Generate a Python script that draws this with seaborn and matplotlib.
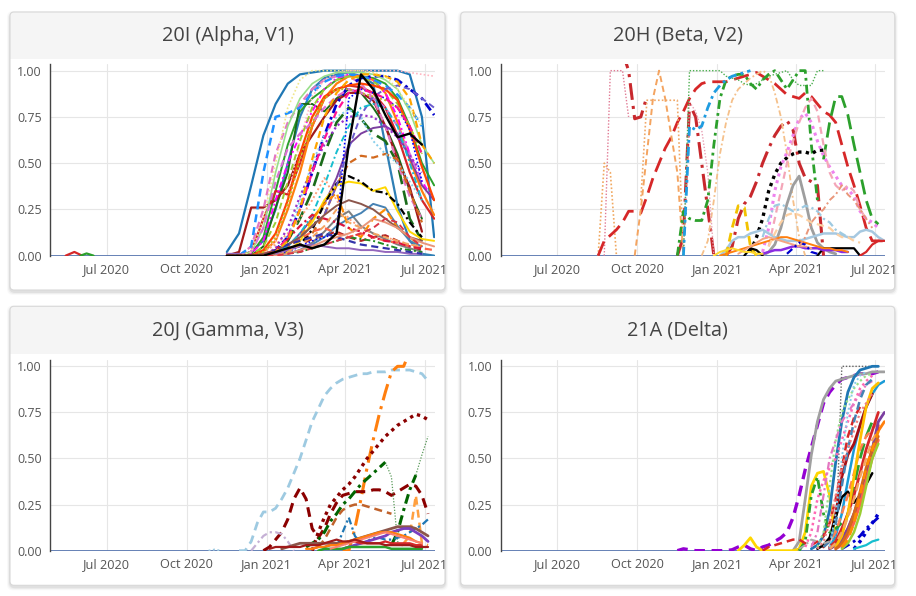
import pandas as pd
import matplotlib
matplotlib.use('Agg')
import matplotlib.pyplot as plt
from matplotlib.patches import FancyBboxPatch, Rectangle
import seaborn as sns

sns.set_style('white')
plt.rcParams['font.family'] = ['Open Sans', 'DejaVu Sans']

# ---------------- data ----------------
titles = ['20I (Alpha, V1)', '20H (Beta, V2)', '20J (Gamma, V3)', '21A (Delta)']
tick_dates = ['2020-07-01', '2020-10-01', '2021-01-01', '2021-04-01', '2021-07-01']
tick_labels = ['Jul 2020', 'Oct 2020', 'Jan 2021', 'Apr 2021', 'Jul 2021']
y_ticks = [0, 0.25, 0.5, 0.75, 1.0]

# Alpha: one value every 14 days from 2020-11-16
alpha_start = '2020-11-16'
alpha_values = [
    [0.02, 0.12, 0.38, 0.65, 0.82, 0.93, 0.98, 0.99, 1.0, 1.0, 1.0, 1.0, 1.0, 1.0, 1.0, 0.98, 0.75, 0.1],
    [0, 0, 0.02, 0.08, 0.25, 0.5, 0.75, 0.9, 0.96, 0.98, 0.99, 0.97, 0.93, 0.6, 0.27, 0.08, 0.01, 0],
    [0, 0, 0.01, 0.1, 0.35, 0.6, 0.78, 0.85, 0.9, 0.95, 0.97, 0.97, 0.96, 0.93, 0.85, 0.7, 0.5, 0.38],
    [0, 0, 0, 0.05, 0.26, 0.45, 0.82, 0.82, 0.78, 0.85, 0.9, 0.88, 0.8, 0.7, 0.55, 0.35, 0.2],
    [0, 0, 0, 0, 0.02, 0.08, 0.2, 0.35, 0.55, 0.72, 0.8, 0.74, 0.66, 0.62, 0.5, 0.2, 0.08],
    [0, 0.02, 0.26, 0.26, 0.3, 0.38, 0.55, 0.65, 0.75, 0.84, 0.88, 0.88, 0.84, 0.7, 0.52, 0.37, 0.13],
    [0, 0, 0.02, 0.2, 0.35, 0.33, 0.5, 0.7, 0.85, 0.9, 0.92, 0.91, 0.88, 0.8, 0.65, 0.45, 0.3, 0.2],
    [0, 0, 0, 0.02, 0.08, 0.25, 0.45, 0.7, 0.85, 0.93, 0.97, 0.97, 0.95, 0.88, 0.72, 0.52, 0.35, 0.22],
    [0, 0, 0.05, 0.25, 0.55, 0.72, 0.82, 0.9, 0.95, 0.97, 0.97, 0.93, 0.85, 0.7, 0.5, 0.32, 0.2],
    [0, 0, 0.01, 0.08, 0.3, 0.5, 0.65, 0.78, 0.9, 0.96, 0.98, 0.97, 0.95, 0.88, 0.75, 0.55, 0.4, 0.3],
    [0, 0, 0, 0, 0, 0.05, 0.12, 0.2, 0.28, 0.42, 0.6, 0.66, 0.69, 0.7, 0.66, 0.53, 0.38, 0.3],
    [0, 0, 0, 0, 0.03, 0.1, 0.25, 0.45, 0.65, 0.82, 0.92, 0.96, 0.97, 0.97, 0.95, 0.9, 0.85, 0.76],
    [0, 0, 0.05, 0.45, 0.75, 0.77, 0.8, 0.88, 0.94, 0.97, 0.98, 0.97, 0.95, 0.92, 0.87, 0.8, 0.7],
    [0, 0, 0, 0, 0, 0.02, 0.06, 0.12, 0.22, 0.38, 0.5, 0.54, 0.53, 0.55, 0.52, 0.35, 0.18],
    [0, 0, 0, 0, 0, 0.02, 0.08, 0.18, 0.3, 0.38, 0.4, 0.39, 0.35, 0.37, 0.24, 0.13, 0.09, 0.08],
    [0, 0, 0, 0, 0.01, 0.03, 0.06, 0.14, 0.28, 0.39, 0.43, 0.4, 0.35, 0.34, 0.28, 0.18, 0.1],
    [0, 0, 0, 0.01, 0.08, 0.32, 0.62, 0.86, 0.95, 0.99, 1.0, 1.0, 1.0, 1.0, 1.0, 0.99, 0.98, 0.97],
    [0, 0, 0.02, 0.15, 0.45, 0.7, 0.85, 0.93, 0.97, 0.99, 0.99, 0.99, 0.98, 0.95, 0.9, 0.78, 0.6, 0.5],
    [0, 0, 0, 0.05, 0.18, 0.4, 0.62, 0.8, 0.9, 0.95, 0.97, 0.96, 0.94, 0.9, 0.82, 0.7, 0.55],
    [0, 0, 0, 0.02, 0.06, 0.12, 0.2, 0.3, 0.42, 0.3, 0.2, 0.15, 0.12, 0.1, 0.08, 0.06, 0.05],
    [0, 0, 0, 0, 0.02, 0.1, 0.3, 0.5, 0.65, 0.75, 0.79, 0.75, 0.62, 0.55, 0.5, 0.4, 0.3],
    [0, 0, 0, 0.03, 0.12, 0.3, 0.55, 0.75, 0.86, 0.9, 0.92, 0.93, 0.92, 0.9, 0.84, 0.68, 0.48, 0.3],
    [0, 0, 0, 0, 0.01, 0.03, 0.06, 0.09, 0.11, 0.13, 0.1, 0.08, 0.1, 0.11, 0.08, 0.05, 0.03],
    [0, 0, 0, 0, 0, 0.01, 0.03, 0.07, 0.13, 0.2, 0.24, 0.16, 0.12, 0.09, 0.06, 0.04, 0.02],
    [0, 0, 0, 0, 0, 0.01, 0.03, 0.06, 0.1, 0.16, 0.2, 0.23, 0.28, 0.26, 0.16, 0.08, 0.05],
    [0, 0, 0, 0, 0.01, 0.04, 0.1, 0.2, 0.28, 0.34, 0.15, 0.1, 0.2, 0.25, 0.15, 0.1, 0.05],
    [0, 0, 0.02, 0.15, 0.4, 0.58, 0.66, 0.72, 0.8, 0.86, 0.9, 0.88, 0.85, 0.8, 0.7, 0.55, 0.4],
    [0, 0, 0, 0, 0.04, 0.15, 0.32, 0.47, 0.6, 0.7, 0.75, 0.76, 0.75, 0.7, 0.64, 0.54, 0.45],
    [0, 0, 0, 0.01, 0.03, 0.06, 0.09, 0.13, 0.15, 0.12, 0.1, 0.12, 0.1, 0.08, 0.07, 0.05, 0.04, 0.03],
    [0, 0, 0, 0, 0, 0.02, 0.05, 0.08, 0.1, 0.12, 0.85, 0.9, 0.88, 0.85, 0.8, 0.68, 0.4],
    [0, 0, 0, 0, 0.02, 0.06, 0.1, 0.16, 0.22, 0.38, 0.58, 0.76, 0.86, 0.9, 0.92, 0.9, 0.85, 0.8],
    [0, 0, 0, 0.02, 0.1, 0.28, 0.52, 0.72, 0.85, 0.9, 0.9, 0.88, 0.86, 0.84, 0.8, 0.7, 0.55],
    [0, 0, 0, 0, 0.02, 0.05, 0.12, 0.22, 0.38, 0.56, 0.7, 0.8, 0.82, 0.8, 0.7, 0.5, 0.3],
    [0.01, 0.005, 0, 0.01, 0.03, 0.06, 0.1, 0.16, 0.22, 0.27, 0.3, 0.28, 0.25, 0.2, 0.15, 0.1, 0.08],
    [0.01, 0.01, 0, 0, 0.01, 0.03, 0.05, 0.06, 0.05, 0.04, 0.04, 0.03, 0.03, 0.02, 0.02, 0.01, 0.01],
    [0, 0, 0, 0, 0.03, 0.09, 0.16, 0.22, 0.2, 0.18, 0.15, 0.13, 0.1, 0.08, 0.07, 0.05, 0.04],
    [0, 0, 0, 0, 0, 0.02, 0.06, 0.1, 0.16, 0.25, 0.18, 0.15, 0.12, 0.1, 0.08, 0.06, 0.05],
    [0, 0, 0, 0, 0, 0.01, 0.02, 0.04, 0.06, 0.08, 0.1, 0.09, 0.08, 0.06, 0.04, 0.03, 0.02],
    [0, 0, 0, 0, 0.03, 0.06, 0.08, 0.1, 0.12, 0.1, 0.08, 0.06, 0.05, 0.04, 0.03, 0.02, 0.01],
    [0, 0, 0, 0, 0.02, 0.1, 0.25, 0.45, 0.63, 0.78, 0.88, 0.9, 0.88, 0.85, 0.8, 0.7, 0.55],
    [0, 0, 0, 0, 0, 0.01, 0.03, 0.05, 0.08, 0.1, 0.12, 0.15, 0.2, 0.18, 0.15, 0.1, 0.07, 0.05],
    [0, 0, 0, 0, 0.02, 0.08, 0.25, 0.52, 0.75, 0.88, 0.95, 0.98, 0.98, 0.97, 0.94, 0.85, 0.6, 0.5],
    [0, 0, 0.02, 0.2, 0.5, 0.8, 0.95, 1.0, 1.0, 1.0, 1.0, 1.0, 0.99, 0.97, 0.9, 0.8, 0.7],
    [0, 0, 0, 0, 0, 0.01, 0.02, 0.04, 0.06, 0.08, 0.1, 0.12, 0.15, 0.2, 0.18, 0.1, 0.05],
    [0, 0, 0, 0, 0.02, 0.04, 0.06, 0.04, 0.06, 0.12, 0.6, 0.98, 0.9, 0.76, 0.64, 0.66, 0.6],
]
alpha_early_dates = [['2020-05-15', '2020-05-25', '2020-06-03'],
                     ['2020-06-01', '2020-06-08', '2020-06-16']]
alpha_early_values = [[0, 0.02, 0], [0, 0.012, 0]]

# Beta, Gamma, Delta: one value every 7 days from each line's start date
beta_starts = ['2020-08-24', '2020-08-17', '2020-08-17', '2020-09-14', '2020-09-28', '2020-10-05',
               '2020-12-14', '2020-11-23', '2020-11-23', '2020-11-16', '2021-05-03', '2020-11-23',
               '2021-02-08', '2021-02-22', '2021-03-01', '2021-02-22', '2021-01-04', '2021-02-22',
               '2021-01-11', '2021-02-01', '2021-06-14', '2021-02-22', '2021-01-04', '2021-01-25',
               '2021-03-22', '2021-03-01', '2020-12-28', '2021-04-05']
beta_values = [
    [0, 1.0, 1.0, 1.0, 0.75],
    [0, 0.5, 0.45, 0.0],
    [0, 0.08, 0.11, 0.14, 0.18, 0.24, 0.24, 0.23, 0.32, 0.42, 0.5, 0.58, 0.64, 0.72, 0.78, 0.85,
     0.9, 0.93, 0.94, 0.94, 0.94, 0.94, 0.95, 0.96, 0.97, 0.98, 0.99, 0.97, 0.95, 0.93, 0.9, 0.87,
     0.86, 0.85, 0.88, 0.86, 0.82, 0.78, 0.76, 0.72, 0.6, 0.48, 0.38, 0.27, 0.15, 0.08, 0.08, 0.08],
    [1.1, 1.0, 0.74, 0.75, 0.86, None, None, None, None, 0, 0.1, 0.82, 0.75, 0.5, 0.25, 0, None,
     0, 0.05, 0.2, 0.28, 0.32, 0.4, 0.5, 0.58, 0.65, 0.7, 0.73, 0.68, 0.5, 0.42, 0.4, 0.38, 0.0],
    [0, 0.25, 0.55, 0.85, 1.0, 0.85, 0.65, 0.45, 0],
    [0.3, 0.84, 0.84, 0.84, 0.84, 0.84, 0.84, 0.0],
    [0, 0.08, 0.3, 0.55, 0.72, 0.84, 0.9, 0.93, 0.96, 0.98, 1.0, 0.98, 0.88, 0.75, 0.55, 0.3, 0.1, 0],
    [0, 0.83, 0.78, 0.68, 0.45, 0.0],
    [0, 1.0, 1.0, 1.0, 1.0, 1.0, 1.0, 0.97, 0.96, 0.95, 0.93, 0.92, 0.93, 0.95, 0.97, 0.98, 0.99,
     1.0, 0.95, 0.92, 0.92, 0.92, 1.0, 1.0],
    [0, 0.24, 0.2, 0.19, 0.19, 0.3, 0.6, 0.85, 0.95, 0.97, 0.98, 0.98, 0.93, 0.9, 0.95, 0.98, 1.0,
     0.95, 0.9, 0.95, 1.0, 1.0, 0.6, 0.3],
    [0.52, 0.72, 0.86, 0.86, 0.76, 0.6, 0.45, 0.3, 0.2, 0.17],
    [0, 0.7, 0.68, 0.7, 0.8, 0.88, 0.92, 0.95, 0.97, 0.98, 0.99, 1.0],
    [0.02, 0.1, 0.2, 0.35, 0.44, 0.5, 0.53, 0.55, 0.56, 0.56, 0.55, 0.57, 0.57],
    [0.02, 0.15, 0.35, 0.48, 0.56, 0.65, 0.74, 0.77, 0.72, 0.62, 0.54, 0.48, 0.43, 0.38, 0.36, 0.32,
     0.24, 0.2, 0.18, 0.15],
    [0.05, 0.2, 0.35, 0.5, 0.62, 0.72, 0.8, 0.85, 0.78, 0.6, 0.45, 0.38, 0.35, 0.38, 0.35, 0.25, 0.2],
    [0, 0.02, 0.06, 0.15, 0.28, 0.38, 0.43, 0.3, 0.15, 0.07, 0.04, 0.02, 0.01],
    [0, 0.03, 0.08, 0.1, 0.1, 0.12, 0.13, 0.14, 0.12, 0.1, 0.09, 0.08, 0.08, 0.08, 0.09, 0.1, 0.11,
     0.12, 0.12, 0.12, 0.11, 0.1, 0.1, 0.13, 0.14, 0.13, 0.1, 0.08],
    [0.1, 0.2, 0.27, 0.28, 0.26, 0.24, 0.25, 0.27, 0.26, 0.24, 0.2, 0.18, 0.14, 0.12, 0.1],
    [0, 0.15, 0.27, 0.26, 0.05, 0],
    [0, 0.04, 0.03, 0, None, None, None, None, None, None, None, None, 0, 0.04, 0.04, 0.04, 0.04,
     0.04, 0.04, 0],
    [0, 0.02, 0.06, 0.08, 0.08],
    [0.01, 0.02, 0.03, 0.03, 0.04, 0.05, 0.05, 0.04, 0.04, 0.04, 0.03, 0.03, 0.03, 0.02, 0.02],
    [0, 0.01, 0.02, 0.03, 0.04, 0.05, 0.06, 0.07, 0.08, 0.09, 0.1, 0.1, 0.09, 0.08, 0.07, 0.06, 0.05,
     0.04, 0.04, 0.03, 0.03, 0.02],
    [0.01, 0.03, 0.05, 0.07, 0.09, 0.1, 0.09, 0.08, 0.07, 0.06, 0.05, 0.05, 0.04],
    [0.01, 0.04, 0.07, 0.06, 0.02, 0.01],
    [0.05, 0.12, 0.18, 0.22, 0.23, 0.22, 0.2, 0.18, 0.17, 0.16, 0.15, 0.12, 0.1, 0.1, 0.08, 0.07],
    [0, 0.02, 0.03, 0.04, 0.03, 0.02, 0.02, 0.01, 0.01],
    [0.05, 0.1, 0.18, 0.22, 0.25, 0.3, 0.33, 0.38, 0.33, 0.3, 0.25, 0.2, 0.15],
]

gamma_starts = ['2020-11-30', '2021-03-29', '2021-06-07', '2021-02-22', '2020-12-28', '2021-02-15',
                '2021-05-17', '2021-05-24', '2021-06-21', '2021-03-01', '2021-03-22', '2020-12-14',
                '2021-01-18', '2021-03-29', '2021-02-22', '2021-02-15', '2021-03-01', '2021-03-15',
                '2021-01-04', '2020-10-26']
gamma_values = [
    [0, 0.0, 0.05, 0.15, 0.21, 0.21, 0.23, 0.28, 0.34, 0.42, 0.5, 0.6, 0.7, 0.77, 0.84, 0.88, 0.91,
     0.93, 0.94, 0.95, 0.96, 0.96, 0.97, 0.97, 0.97, 0.98, 0.98, 0.98, 0.98, 0.97, 0.96, 0.92],
    [0, 0.0, 0.12, 0.28, 0.45, 0.6, 0.74, 0.86, 0.97, 1.0, 1.0, 1.08],
    [0.04, 0.08, 0.3, 0.04, 0.03],
    [0, 0.1, 0.18, 0.25, 0.29, 0.33, 0.36, 0.4, 0.45, 0.5, 0.54, 0.58, 0.62, 0.65, 0.68, 0.7, 0.72,
     0.74, 0.73, 0.71],
    [0, 0.02, 0.06, 0.1, 0.17, 0.28, 0.34, 0.28, 0.12, 0.07, 0.12, 0.2, 0.26, 0.3, 0.31, 0.32, 0.32,
     0.32, 0.33, 0.33, 0.32, 0.3, 0.32, 0.34, 0.36, 0.35, 0.3, 0.2],
    [0.02, 0.04, 0.06, 0.1, 0.16, 0.2, 0.25, 0.28, 0.32, 0.36, 0.39, 0.42, 0.45, 0.48],
    [0.48, 0.4, 0.05, 0.02],
    [0.03, 0.1, 0.22, 0.33, 0.41],
    [0.41, 0.52, 0.62],
    [0.02, 0.06, 0.12, 0.18, 0.22, 0.24, 0.25, 0.25, 0.24, 0.23, 0.22, 0.21, 0.2],
    [0.02, 0.1, 0.18, 0.08, 0.04, 0.05, 0.07, 0.07, 0.06, 0.06, 0.07, 0.08, 0.1, 0.12, 0.14, 0.17],
    [0, 0.04, 0.08, 0.1, 0.1, 0.09, 0.05, 0.0],
    [0.01, 0.02, 0.03, 0.04, 0.04, 0.04, 0.04, 0.04, 0.04, 0.04, 0.04, 0.05, 0.06, 0.07, 0.08, 0.09,
     0.1, 0.11, 0.12, 0.13, 0.13, 0.13, 0.12, 0.1, 0.08],
    [0.01, 0.02, 0.03, 0.04, 0.05, 0.06, 0.07, 0.08, 0.1, 0.11, 0.12, 0.12, 0.1, 0.08, 0.05],
    [0.01, 0.02, 0.02, 0.03, 0.03, 0.04, 0.05, 0.05, 0.04, 0.04, 0.04, 0.04, 0.05, 0.04, 0.04, 0.04,
     0.04, 0.03, 0.03],
    [0.01, 0.01, 0.02, 0.02, 0.03, 0.03, 0.04, 0.05, 0.06, 0.07, 0.08, 0.09, 0.1, 0.1, 0.1, 0.09,
     0.08, 0.07, 0.05, 0.04],
    [0, 0.01, 0.01, 0.01, 0.01, 0.02, 0.02, 0.02, 0.02, 0.02, 0.02, 0.02, 0.01, 0.01, 0.01, 0.01,
     0.01, 0.01],
    [0.01, 0.02, 0.03, 0.04, 0.05, 0.06, 0.07, 0.08, 0.09, 0.1, 0.09, 0.08, 0.07, 0.06, 0.05, 0.04],
    [0.01, 0.02, 0.02, 0.02, 0.02, 0.02, 0.03, 0.03, 0.03, 0.04, 0.05, 0.06, 0.05, 0.05, 0.06, 0.05,
     0.04, 0.04, 0.04, 0.03, 0.03, 0.03, 0.03, 0.03, 0.02, 0.02, 0.02],
    [0, 0.006, 0],
]

delta_starts = ['2020-11-16', '2021-03-29', '2021-01-25', '2021-05-17', '2021-04-19', '2021-05-10',
                '2021-05-03', '2021-04-26', '2021-04-05', '2021-05-17', '2021-05-10', '2021-05-17',
                '2021-05-03', '2021-05-10', '2021-02-22', '2021-04-12', '2021-04-26', '2021-04-19',
                '2021-05-10', '2021-05-03', '2021-05-17', '2021-06-07', '2021-05-24', '2021-05-10',
                '2021-04-26', '2021-05-10', '2021-05-17', '2021-05-24', '2021-05-17', '2021-06-07',
                '2021-05-24', '2021-04-05']
delta_values = [
    [0, 0.01, 0.005, 0, 0, 0, 0, 0, 0, 0.005, 0.02, 0.03, 0.01, 0.0, 0.02, 0.03, 0.05, 0.07, 0.1,
     0.18, 0.3, 0.44, 0.56, 0.68, 0.8, 0.86, 0.9, 0.93, 0.94, 0.95, 0.96, 0.96, 0.96, 0.97],
    [0, 0.05, 0.28, 0.52, 0.7, 0.82, 0.88, 0.92, 0.93, 0.94, 0.95, 0.96, 0.96, 0.97, 0.97, 0.97],
    [0, 0.03, 0.07, 0.02, 0, 0, 0, 0, 0, 0, 0.01, 0.1, 0.35, 0.42, 0.43, 0.3, 0.05],
    [0, 1.0, 1.0, 1.0, 1.0, 1.0, 1.0, 1.0],
    [0.01, 0.03, 0.08, 0.22, 0.48, 0.7, 0.86, 0.94, 0.98, 0.99, 1.0, 1.0],
    [0.02, 0.08, 0.2, 0.38, 0.55, 0.68, 0.78, 0.85, 0.9, 0.92],
    [0.02, 0.06, 0.2, 0.4, 0.52, 0.58, 0.68, 0.78, 0.85],
    [0.01, 0.03, 0.07, 0.18, 0.29, 0.32, 0.26, 0.3, 0.36, 0.42],
    [0, 0.05, 0.3, 0.4, 0.2, 0.1, 0.12, 0.15],
    [0.04, 0.1, 0.2, 0.35, 0.5, 0.62, 0.7],
    [0.01, 0.03, 0.06, 0.12, 0.2, 0.3, 0.42, 0.55, 0.65, 0.7],
    [0.02, 0.05, 0.1, 0.18, 0.3, 0.42, 0.55, 0.68],
    [0.02, 0.05, 0.1, 0.2, 0.3, 0.42, 0.55, 0.62, 0.66, 0.7],
    [0.02, 0.05, 0.12, 0.2, 0.3, 0.42, 0.55, 0.65, 0.75],
    [0, 0.02, 0.03, 0.04, 0.05, 0.06, 0.06, 0.04, 0.03, 0.05, 0.08, 0.15, 0.28, 0.45, 0.62, 0.72, 0.78],
    [0.02, 0.1, 0.28, 0.38, 0.45, 0.5, 0.6, 0.7, 0.8, 0.88, 0.92, 0.95],
    [0.02, 0.1, 0.35, 0.6, 0.75, 0.82, 0.88, 0.92, 0.95, 0.96],
    [0.02, 0.1, 0.3, 0.5, 0.6, 0.7, 0.75, 0.8, 0.85, 0.9, 0.92],
    [0.01, 0.03, 0.06, 0.12, 0.2, 0.3, 0.4, 0.55, 0.7, 0.75],
    [0.02, 0.05, 0.15, 0.35, 0.55, 0.7, 0.82, 0.9, 0.93],
    [0.02, 0.08, 0.2, 0.4, 0.6, 0.78, 0.88, 0.91],
    [0.01, 0.05, 0.1, 0.15, 0.2],
    [0.01, 0.03, 0.05, 0.08, 0.12, 0.15, 0.18],
    [0.02, 0.2, 0.5, 0.75, 0.9, 0.95, 0.97],
    [0.01, 0.05, 0.15, 0.3, 0.45, 0.55, 0.65, 0.75, 0.8, 0.85],
    [0.01, 0.04, 0.1, 0.18, 0.28, 0.4, 0.5, 0.6, 0.65],
    [0.01, 0.03, 0.08, 0.15, 0.25, 0.38, 0.5, 0.6],
    [0.01, 0.04, 0.1, 0.2, 0.35, 0.5, 0.58],
    [0.01, 0.04, 0.1, 0.2, 0.32, 0.45, 0.55, 0.62],
    [0.01, 0.02, 0.03, 0.05, 0.06],
    [0.02, 0.06, 0.15, 0.3, 0.45, 0.55, 0.65],
    [0.01, 0.03, 0.06, 0.05, 0.04, 0.05, 0.08],
]

# ---------------- styles (colour, dash, width) ----------------
alpha_styles = [
    ('#1f77b4', 'solid', 1.6), ('#2f7fb5', 'solid', 1.6), ('#2ca02c', 'solid', 1.4),
    ('#1a6b1a', 'solid', 1.4), ('#1a6b1a', 'longdash', 1.9), ('#a11a1a', 'solid', 1.6),
    ('#d62728', 'solid', 1.6), ('#ff7f0e', 'solid', 1.6), ('#e377c2', 'dash', 1.6),
    ('#ff00ff', 'dashdot', 1.4), ('#7b3fa0', 'solid', 1.4), ('#0000cd', 'dashdot', 2.0),
    ('#1e90ff', 'dash', 1.8), ('#d2691e', 'dash', 1.6), ('#ffd700', 'solid', 1.4),
    ('black', 'dashdot', 1.6), ('#ffb6c1', 'dot', 1.2), ('#98df8a', 'solid', 1.2),
    ('#9acd32', 'dash', 1.4), ('#ffa07a', 'dot', 1.4), ('#87ceeb', 'dot', 1.4),
    ('#ff4500', 'solid', 1.6), ('#b22222', 'dash', 1.6), ('#7f7f7f', 'solid', 1.4),
    ('#4682b4', 'solid', 1.4), ('#ff8c00', 'dash', 1.6), ('#da70d6', 'dash', 1.6),
    ('#9932cc', 'dot', 1.6), ('#ff6347', 'dash', 1.6), ('#0000ff', 'dot', 1.2),
    ('#6a5acd', 'dash', 1.4), ('#bcbd22', 'dot', 1.4), ('#17becf', 'dashdot', 1.4),
    ('#8c564b', 'solid', 1.4), ('#9467bd', 'solid', 1.4), ('#dc143c', 'dashdot', 1.6),
    ('#f4a460', 'dash', 1.4), ('#228b22', 'dashdot', 1.4), ('#3333aa', 'dash', 1.6),
    ('#ff1493', 'dash', 1.6), ('#e9967a', 'solid', 1.4), ('#ffa500', 'dash', 1.6),
    ('#f0e68c', 'dot', 1.2), ('#dc3545', 'dash', 1.4), ('black', 'solid', 1.7),
]
alpha_early_styles = [('#d62728', 'solid', 1.6), ('#2ca02c', 'solid', 1.6)]

beta_styles = [
    ('#e17a94', 'dot', 1.0), ('#f0a860', 'dot', 1.2), ('#d62728', 'longdash', 2.0),
    ('#c8282d', 'longdashdot', 2.2), ('#f4a460', 'dash', 1.4), ('#f0a868', 'dot', 1.2),
    ('#f5c08a', 'dashdot', 1.3), ('#e8a0b4', 'dot', 1.0), ('#4caf50', 'dot', 1.0),
    ('#2ca02c', 'dashdot', 2.0), ('#2ca02c', 'longdash', 2.0), ('#1f9ce0', 'dashdot', 2.0),
    ('black', 'dot', 2.4), ('#ee82ee', 'dot', 2.2), ('#f4a6b8', 'dash', 1.6),
    ('#9e9e9e', 'solid', 2.0), ('#a6c8e0', 'solid', 1.8), ('#9ecae1', 'dashdot', 1.6),
    ('#f2c200', 'dash', 2.0), ('black', 'solid', 1.6), ('#d62728', 'solid', 1.6),
    ('#8a2be2', 'solid', 1.8), ('#ff7f0e', 'solid', 1.4), ('#f4a582', 'solid', 1.4),
    ('#0000cd', 'dashdot', 1.6), ('#fdd0a2', 'dash', 1.6), ('#ffd92f', 'solid', 1.4),
    ('#e9967a', 'dashdot', 1.4),
]
gamma_styles = [
    ('#9ecae1', 'dash', 2.0), ('#ff7f0e', 'longdashdot', 2.2), ('#ffa040', 'dash', 1.8),
    ('#8b0000', 'dot', 2.4), ('#8b0000', 'dash', 2.2), ('#006400', 'dashdot', 2.2),
    ('#5a9a5a', 'dot', 0.9), ('#006400', 'dashdot', 2.2), ('#5a9a5a', 'dot', 0.9),
    ('#c0622b', 'dash', 1.8), ('#1f77b4', 'dashdot', 1.6), ('#c5b0d5', 'dashdot', 1.6),
    ('#8c564b', 'solid', 2.0), ('#7b3fbf', 'solid', 2.0), ('#d62728', 'solid', 1.6),
    ('#ff7f0e', 'solid', 1.6), ('#2ca02c', 'solid', 1.8), ('#fa8072', 'solid', 1.4),
    ('#a11a1a', 'solid', 1.6), ('#9ecae1', 'dot', 1.4),
]
delta_styles = [
    ('#9400d3', 'dash', 2.4), ('#a0a0a0', 'solid', 2.0), ('#ffd700', 'solid', 2.0),
    ('#666666', 'dot', 1.0), ('#1f77b4', 'solid', 2.0), ('#1a9bd7', 'solid', 1.8),
    ('#a50f15', 'solid', 2.0), ('black', 'solid', 1.8), ('#2ca02c', 'dashdot', 2.0),
    ('#2ca02c', 'longdash', 2.0), ('#ff7f0e', 'solid', 2.0), ('#ff4500', 'solid', 2.0),
    ('#ff7f50', 'dash', 1.8), ('#d62728', 'solid', 2.0), ('#d62728', 'dash', 1.8),
    ('#ff69b4', 'dot', 1.8), ('#98df8a', 'dot', 1.6), ('#e377c2', 'dashdot', 1.6),
    ('#7b3fa0', 'solid', 2.0), ('#4682b4', 'dash', 1.8), ('#ffc000', 'solid', 2.0),
    ('#0000cd', 'dot', 2.4), ('#0000cd', 'dashdot', 2.0), ('#87ceeb', 'dot', 1.4),
    ('#f08080', 'dot', 1.6), ('#f4a460', 'dash', 1.8), ('#ff6347', 'solid', 2.0),
    ('#9acd32', 'solid', 1.8), ('#d2691e', 'solid', 2.0), ('#17becf', 'solid', 1.6),
    ('#ff8c00', 'dash', 2.0), ('#a9a9a9', 'dashdot', 1.4),
]

DASH = {'solid': '-', 'dash': (0, (3.2, 2)), 'longdash': (0, (5.5, 2.5)),
        'dot': (0, (1, 1.3)), 'dashdot': (0, (3.2, 1.5, 1, 1.5)),
        'longdashdot': (0, (5.5, 2, 1, 2))}


def draw_line(ax, dates, values, style):
    color, dash, width = style
    df = pd.DataFrame({'date': pd.to_datetime(dates), 'share': pd.array(values, dtype='Float64')})
    df['share'] = df['share'].astype(float)
    seg = df['share'].isna().cumsum()
    ok = df['share'].notna()
    for _, part in df[ok].groupby(seg[ok]):
        if len(part) < 2:
            continue
        sns.lineplot(data=part, x='date', y='share', ax=ax, color=color,
                     linestyle=DASH[dash], linewidth=width, estimator=None,
                     sort=False, legend=False)


def weekly(start, n, step):
    return pd.date_range(start, periods=n, freq=f'{step}D')


# ---------------- figure layout (pixels) ----------------
W, H = 916, 596
fig = plt.figure(figsize=(W / 100, H / 100), dpi=100)
fig.patch.set_facecolor('white')

cards = [(10, 12, 445, 290), (460.7, 12, 894.7, 290),
         (10, 306.3, 445, 585.3), (460.7, 306.3, 894.7, 585.3)]
header_bottoms = [59, 59, 354, 354]
plot_boxes = [(50, 64, 435, 256.4), (500.7, 64, 885.3, 256.4),
              (50, 359.7, 435, 551.4), (500.7, 359.7, 885.3, 551.4)]

bg = fig.add_axes([0, 0, 1, 1])
bg.set_xlim(0, W)
bg.set_ylim(H, 0)
bg.axis('off')
for (x0, y0, x1, y1), hb, title in zip(cards, header_bottoms, titles):
    for k, a in [(3, 0.025), (2, 0.04), (1, 0.06)]:
        bg.add_patch(FancyBboxPatch((x0 - k, y0 - k + 2), x1 - x0 + 2 * k, y1 - y0 + 2 * k,
                                    boxstyle='round,pad=0,rounding_size=6',
                                    fc='black', ec='none', alpha=a))
    bg.add_patch(FancyBboxPatch((x0, y0), x1 - x0, y1 - y0,
                                boxstyle='round,pad=0,rounding_size=4', fc='white', ec='none'))
    bg.add_patch(FancyBboxPatch((x0, y0), x1 - x0, hb - y0,
                                boxstyle='round,pad=0,rounding_size=4', fc='#f5f5f5', ec='none'))
    bg.add_patch(Rectangle((x0, hb - 6), x1 - x0, 6, fc='#f5f5f5', ec='none'))
    bg.add_patch(FancyBboxPatch((x0, y0), x1 - x0, y1 - y0,
                                boxstyle='round,pad=0,rounding_size=4', fc='none',
                                ec='#d8d8d8', lw=0.8))
    bg.text((x0 + x1) / 2, (y0 + hb) / 2 + 0.5, title, ha='center', va='center',
            fontsize=14.3, color='#444444')

panels = [
    ([weekly(alpha_start, len(v), 14) for v in alpha_values], alpha_values, alpha_styles),
    ([weekly(s, len(v), 7) for s, v in zip(beta_starts, beta_values)], beta_values, beta_styles),
    ([weekly(s, len(v), 7) for s, v in zip(gamma_starts, gamma_values)], gamma_values, gamma_styles),
    ([weekly(s, len(v), 7) for s, v in zip(delta_starts, delta_values)], delta_values, delta_styles),
]

for i, ((x0, y0, x1, y1), (dates_list, values_list, styles)) in enumerate(zip(plot_boxes, panels)):
    ax = fig.add_axes([x0 / W, 1 - y1 / H, (x1 - x0) / W, (y1 - y0) / H])
    ax.set_facecolor('none')
    ax.axhline(0, color='#5a78b0', lw=1.3, zorder=1.5)
    if i == 0:
        for d, v, st in zip(alpha_early_dates, alpha_early_values, alpha_early_styles):
            draw_line(ax, d, v, st)
    for d, v, st in zip(dates_list, values_list, styles):
        draw_line(ax, d, v, st)

    ax.set_xlim(pd.Timestamp('2020-04-27'), pd.Timestamp('2021-07-13'))
    ax.set_ylim(-0.004, 1.036)
    ax.set_xticks(pd.to_datetime(tick_dates))
    ax.set_xticklabels(tick_labels)
    ax.set_yticks(y_ticks)
    ax.set_yticklabels([f'{t:.2f}' for t in y_ticks])
    ax.set_xlabel('')
    ax.set_ylabel('')
    ax.grid(True, color='#e6e6e6', lw=0.8)
    ax.set_axisbelow(True)
    for s in ['top', 'right', 'bottom']:
        ax.spines[s].set_visible(False)
    ax.spines['left'].set_color('#444444')
    ax.spines['left'].set_linewidth(1.0)
    ax.tick_params(axis='y', length=4.5, width=0.8, color='#444444', pad=1.5,
                   labelsize=8.9, labelcolor='#555555')
    ax.tick_params(axis='x', length=3, width=0.8, color='#444444', pad=1.5,
                   labelsize=9.2, labelcolor='#555555')

fig.savefig('out.png', dpi=100, facecolor='white')
